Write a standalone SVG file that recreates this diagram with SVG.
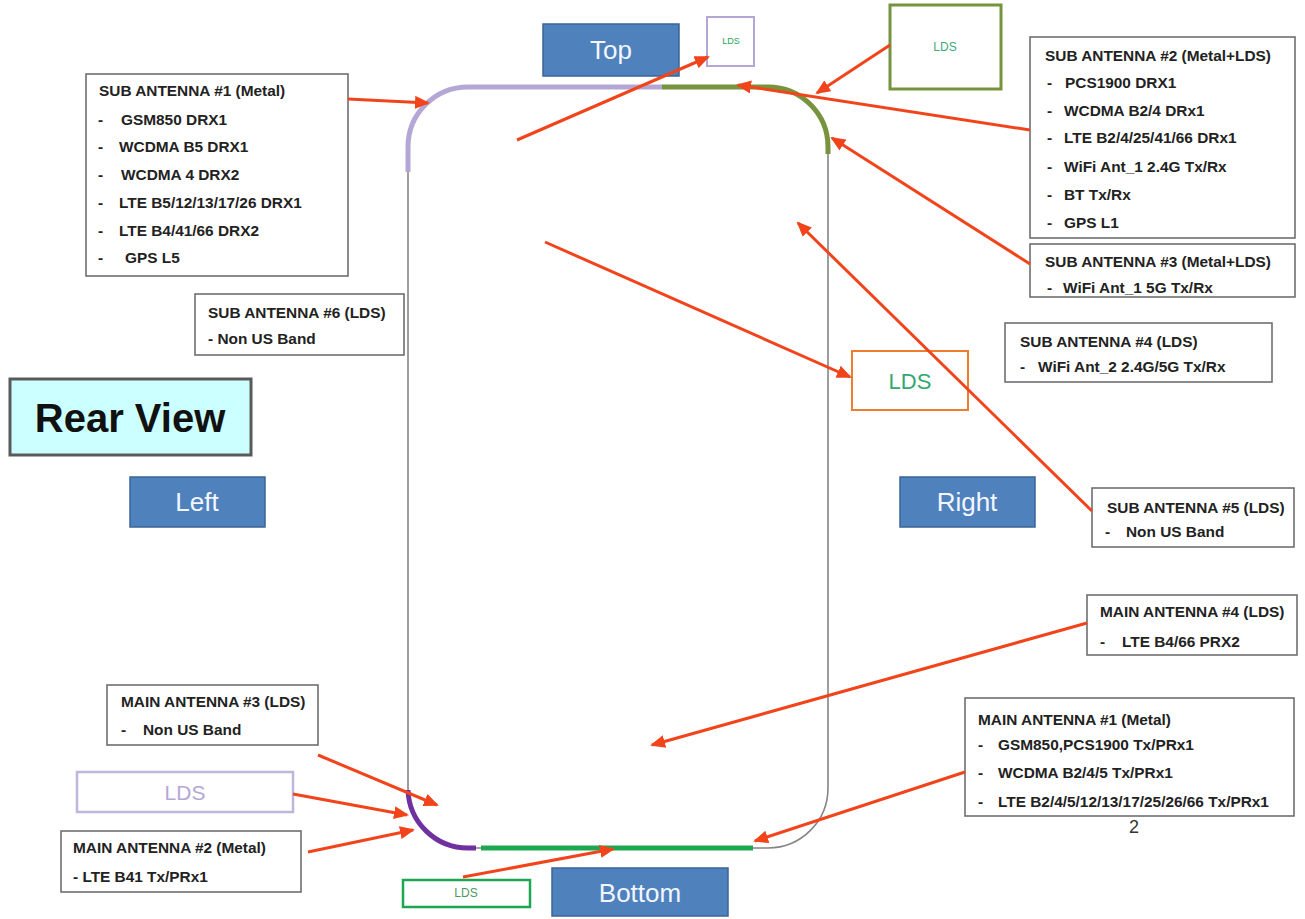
<svg xmlns="http://www.w3.org/2000/svg" width="1305" height="919" viewBox="0 0 1305 919">
<style>
.box{fill:#fff;stroke:#6f6f6f;stroke-width:1.6}
.t{font-family:"Liberation Sans",Arial,sans-serif;font-size:15.4px;font-weight:bold;fill:#222}
.btn{fill:#4f81bd;stroke:#3a6595;stroke-width:1.5}
.bt{font-family:"Liberation Sans",Arial,sans-serif;font-size:26px;fill:#f2f6ff;text-anchor:middle}
.lds{font-family:"Liberation Sans",Arial,sans-serif;text-anchor:middle}
.arr{stroke:#f2441b;stroke-width:3;fill:none;marker-end:url(#ah)}
</style>
<defs>
<marker id="ah" markerUnits="userSpaceOnUse" markerWidth="15" markerHeight="13" refX="13" refY="6.5" orient="auto">
<path d="M0,0 L15,6.5 L0,13 z" fill="#f2441b"/>
</marker>
</defs>
<rect width="1305" height="919" fill="#fff"/>

<g id="phone">
<rect x="408" y="87" width="420" height="761" rx="60" ry="60" fill="none" stroke="#858585" stroke-width="1.6"/>
<path d="M408,172 L408,147 A60,60 0 0 1 468,87 L662,87" fill="none" stroke="#b4a7d6" stroke-width="5"/>
<path d="M662,87 L768,87 A60,60 0 0 1 828,147 L828,154" fill="none" stroke="#77933c" stroke-width="5"/>
<path d="M408,790 A60,60 0 0 0 468,848 L476,848" fill="none" stroke="#7030a0" stroke-width="5"/>
<path d="M481,848 L753,848" fill="none" stroke="#1fa650" stroke-width="5"/>
</g>

<g id="top-btn"><rect class="btn" x="543" y="24" width="136" height="52"/><text class="bt" x="611" y="59">Top</text></g>
<g id="left-btn"><rect class="btn" x="130" y="477" width="135" height="50"/><text class="bt" x="197" y="511">Left</text></g>
<g id="right-btn"><rect class="btn" x="900" y="477" width="135" height="50"/><text class="bt" x="967" y="511">Right</text></g>
<g id="bottom-btn"><rect class="btn" x="552" y="868" width="176" height="48"/><text class="bt" x="640" y="902">Bottom</text></g>

<g id="rear-view">
<rect x="10" y="379" width="241" height="76" fill="#ccffff" stroke="#5a5a5a" stroke-width="3"/>
<text x="130" y="432" font-family="Liberation Sans,Arial,sans-serif" font-size="40" font-weight="bold" fill="#111" text-anchor="middle">Rear View</text>
</g>

<g id="lds-top-small"><rect x="707" y="17" width="47" height="49" fill="#fff" stroke="#b4a7d6" stroke-width="2"/><text class="lds" x="731" y="44" font-size="9" fill="#2e9e5e">LDS</text></g>
<g id="lds-top-olive"><rect x="890" y="5" width="111" height="84" fill="#fff" stroke="#77933c" stroke-width="3"/><text class="lds" x="945" y="51" font-size="12" fill="#3caa78">LDS</text></g>
<g id="lds-orange"><rect x="852" y="351" width="116" height="59" fill="#fff" stroke="#ed7d31" stroke-width="2"/><text class="lds" x="910" y="389" font-size="22" fill="#2eaa6e">LDS</text></g>
<g id="lds-lavender"><rect x="77" y="772" width="216" height="40" fill="#fff" stroke="#c0b5dc" stroke-width="2.5"/><text class="lds" x="185" y="800" font-size="21" fill="#b4a7d6">LDS</text></g>
<g id="lds-green"><rect x="403" y="880" width="127" height="27" fill="#fff" stroke="#1fa650" stroke-width="2.5"/><text class="lds" x="466" y="897" font-size="12" fill="#4a9a60">LDS</text></g>

<g id="sub1">
<rect class="box" x="86" y="74" width="262" height="202"/>
<text class="t" x="99" y="96">SUB ANTENNA #1 (Metal)</text>
<text class="t" x="98" y="125">-</text><text class="t" x="121" y="125">GSM850 DRX1</text>
<text class="t" x="98" y="152">-</text><text class="t" x="119" y="152">WCDMA B5 DRX1</text>
<text class="t" x="98" y="180">-</text><text class="t" x="121" y="180">WCDMA 4 DRX2</text>
<text class="t" x="98" y="208">-</text><text class="t" x="119" y="208">LTE B5/12/13/17/26 DRX1</text>
<text class="t" x="98" y="236">-</text><text class="t" x="119" y="236">LTE B4/41/66 DRX2</text>
<text class="t" x="98" y="263">-</text><text class="t" x="125" y="263">GPS L5</text>
</g>

<g id="sub2">
<rect class="box" x="1030" y="37" width="265" height="201"/>
<text class="t" x="1045" y="61">SUB ANTENNA #2 (Metal+LDS)</text>
<text class="t" x="1047" y="88">-</text><text class="t" x="1065" y="88">PCS1900 DRX1</text>
<text class="t" x="1047" y="116">-</text><text class="t" x="1064" y="116">WCDMA B2/4 DRx1</text>
<text class="t" x="1047" y="143">-</text><text class="t" x="1064" y="143">LTE B2/4/25/41/66 DRx1</text>
<text class="t" x="1047" y="172">-</text><text class="t" x="1064" y="172">WiFi Ant_1 2.4G Tx/Rx</text>
<text class="t" x="1047" y="200">-</text><text class="t" x="1064" y="200">BT Tx/Rx</text>
<text class="t" x="1047" y="228">-</text><text class="t" x="1064" y="228">GPS L1</text>
</g>

<g id="sub3">
<rect class="box" x="1030" y="244" width="265" height="53"/>
<text class="t" x="1045" y="267">SUB ANTENNA #3 (Metal+LDS)</text>
<text class="t" x="1047" y="293">-</text><text class="t" x="1063" y="293">WiFi Ant_1 5G Tx/Rx</text>
</g>

<g id="sub4">
<rect class="box" x="1005" y="323" width="267" height="59"/>
<text class="t" x="1020" y="347">SUB ANTENNA #4 (LDS)</text>
<text class="t" x="1020" y="372">-</text><text class="t" x="1038" y="372">WiFi Ant_2 2.4G/5G Tx/Rx</text>
</g>

<g id="sub5">
<rect class="box" x="1092" y="488" width="202" height="59"/>
<text class="t" x="1107" y="513">SUB ANTENNA #5 (LDS)</text>
<text class="t" x="1105" y="537">-</text><text class="t" x="1126" y="537">Non US Band</text>
</g>

<g id="sub6">
<rect class="box" x="195" y="294" width="209" height="61"/>
<text class="t" x="208" y="318">SUB ANTENNA #6 (LDS)</text>
<text class="t" x="208" y="344">- Non US Band</text>
</g>

<g id="main4">
<rect class="box" x="1087" y="595" width="210" height="60"/>
<text class="t" x="1100" y="617">MAIN ANTENNA #4 (LDS)</text>
<text class="t" x="1100" y="647">-</text><text class="t" x="1122" y="647">LTE B4/66 PRX2</text>
</g>

<g id="main1">
<rect class="box" x="965" y="698" width="329" height="118"/>
<text class="t" x="978" y="725">MAIN ANTENNA #1 (Metal)</text>
<text class="t" x="978" y="750">-</text><text class="t" x="998" y="750">GSM850,PCS1900 Tx/PRx1</text>
<text class="t" x="978" y="778">-</text><text class="t" x="998" y="778">WCDMA B2/4/5 Tx/PRx1</text>
<text class="t" x="978" y="807">-</text><text class="t" x="998" y="807">LTE B2/4/5/12/13/17/25/26/66 Tx/PRx1</text>
</g>
<text id="page-num" x="1134" y="833" font-family="Liberation Sans,Arial,sans-serif" font-size="18" fill="#333" text-anchor="middle">2</text>

<g id="main3">
<rect class="box" x="107" y="685" width="211" height="60"/>
<text class="t" x="121" y="707">MAIN ANTENNA #3 (LDS)</text>
<text class="t" x="121" y="735">-</text><text class="t" x="143" y="735">Non US Band</text>
</g>

<g id="main2">
<rect class="box" x="61" y="831" width="240" height="61"/>
<text class="t" x="73" y="853">MAIN ANTENNA #2 (Metal)</text>
<text class="t" x="73" y="882">- LTE B41 Tx/PRx1</text>
</g>

<g id="connectors">
<line class="arr" x1="348" y1="99" x2="428" y2="103"/>
<line class="arr" x1="517" y1="140" x2="708" y2="57"/>
<line class="arr" x1="890" y1="45" x2="817" y2="93"/>
<line class="arr" x1="1030" y1="130" x2="738" y2="85"/>
<line class="arr" x1="1030" y1="264" x2="832" y2="138"/>
<line class="arr" x1="1092" y1="511" x2="798" y2="223"/>
<line class="arr" x1="545" y1="242" x2="850" y2="377"/>
<line class="arr" x1="1087" y1="623" x2="652" y2="745"/>
<line class="arr" x1="965" y1="772" x2="755" y2="841"/>
<line class="arr" x1="318" y1="755" x2="437" y2="805"/>
<line class="arr" x1="293" y1="794" x2="407" y2="815"/>
<line class="arr" x1="308" y1="852" x2="413" y2="830"/>
<line class="arr" x1="463" y1="877" x2="613" y2="849"/>
</g>
</svg>
